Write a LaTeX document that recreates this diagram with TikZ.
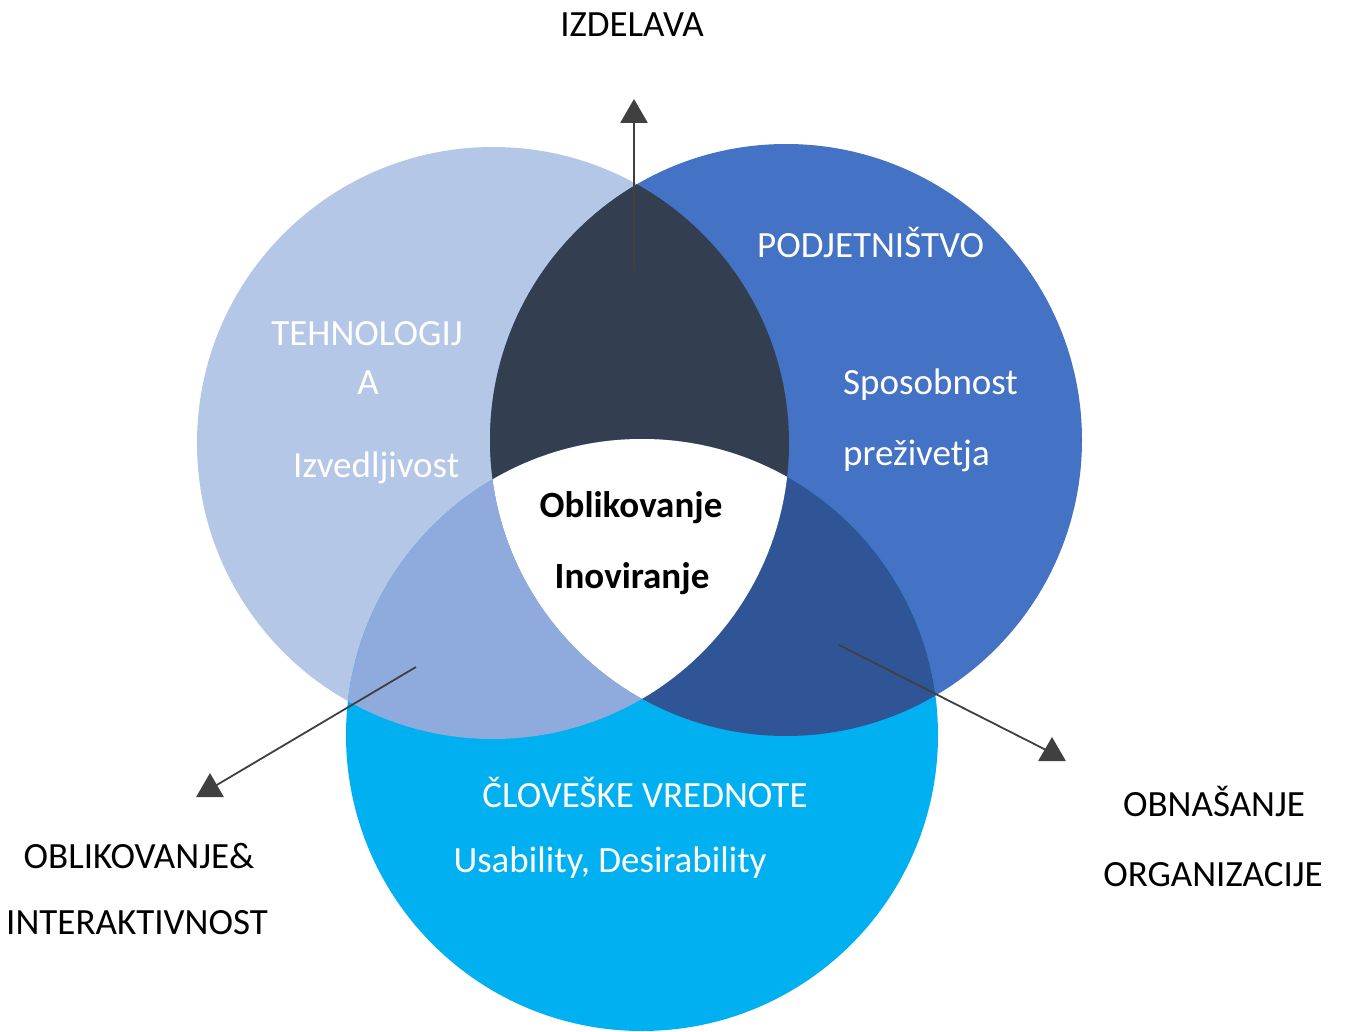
\documentclass[tikz,border=0pt]{standalone}
\usepackage{fontspec}
\setmainfont{Carlito}
\usetikzlibrary{shapes.geometric}
\definecolor{techfill}{HTML}{B4C7E7}
\definecolor{bizfill}{HTML}{4472C4}
\definecolor{humanfill}{HTML}{00B0F0}
\definecolor{lensTop}{HTML}{333F50}
\definecolor{lensLeft}{HTML}{8FAADC}
\definecolor{lensRight}{HTML}{2F5597}
\definecolor{inkgray}{HTML}{404040}
\begin{document}
\begin{tikzpicture}[x=1pt,y=-1pt,
  txt/.style={inner sep=0pt, anchor=base, font=\fontsize{37}{44}\selectfont},
  wtxt/.style={txt, text=white},
  ctxt/.style={txt, font=\fontsize{37}{44}\selectfont\bfseries},
  conn/.style={draw=inkgray, line width=1.8pt},
  tip/.style={regular polygon, regular polygon sides=3, minimum size=32pt,
    inner sep=0pt, fill=inkgray, draw=none}]
\useasboundingbox (0,0) rectangle (1345,1032);

% circle centres
\coordinate (c1) at (493,443);
\coordinate (c2) at (786,440);
\coordinate (c3) at (642,735);
\def\rad{296pt}

% base circles
\fill[techfill] (c1) circle[radius=\rad];
\fill[bizfill] (c2) circle[radius=\rad];
\fill[humanfill] (c3) circle[radius=\rad];

% pairwise overlaps
\begin{scope}
  \clip (c1) circle[radius=\rad];
  \fill[lensTop] (c2) circle[radius=\rad];
  \fill[lensLeft] (c3) circle[radius=\rad];
\end{scope}
\begin{scope}
  \clip (c2) circle[radius=\rad];
  \fill[lensRight] (c3) circle[radius=\rad];
\end{scope}
% triple overlap
\begin{scope}
  \clip (c1) circle[radius=\rad];
  \clip (c2) circle[radius=\rad];
  \fill[white] (c3) circle[radius=\rad];
\end{scope}

% pointer lines with triangle heads
\coordinate (sTop) at (634,270);
\coordinate (sLeft) at (416,667);
\coordinate (sRight) at (839,645);
\node[tip] (tTop) at (634,115) {};
\node[tip] (tLeft) at (210,789) {};
\node[tip] (tRight) at (1052,753) {};
\draw[conn] (sTop) -- (tTop.center);
\draw[conn] (sLeft) -- (tLeft.center);
\draw[conn] (sRight) -- (tRight.center);

% outer labels
\node[txt] (izd) at (632,37) {IZDELAVA};
\node[txt] (obl1) at (139,868) {OBLIKOVANJE\&};
\node[txt] (obl2) at (137,934) {INTERAKTIVNOST};
\node[txt] (obn1) at (1214,816) {OBNAŠANJE};
\node[txt] (obn2) at (1213,886) {ORGANIZACIJE};

% circle labels
\node[wtxt] (teh1) at (367,346) {TEHNOLOGIJ};
\node[wtxt] (teh2) at (368,395) {A};
\node[wtxt, anchor=base west] (teh3) at (293,477) {Izvedljivost};
\node[wtxt, anchor=base west] (pod1) at (757,258) {PODJETNIŠTVO};
\node[wtxt, anchor=base west] (pod2) at (843,395) {Sposobnost};
\node[wtxt, anchor=base west] (pod3) at (843,465) {preživetja};
\node[wtxt] (clo1) at (645,807) {ČLOVEŠKE VREDNOTE};
\node[wtxt] (clo2) at (610,872) {Usability, Desirability};

% centre
\node[ctxt] (ctr1) at (631,517) {Oblikovanje};
\node[ctxt] (ctr2) at (632,588) {Inoviranje};
\end{tikzpicture}
\end{document}
